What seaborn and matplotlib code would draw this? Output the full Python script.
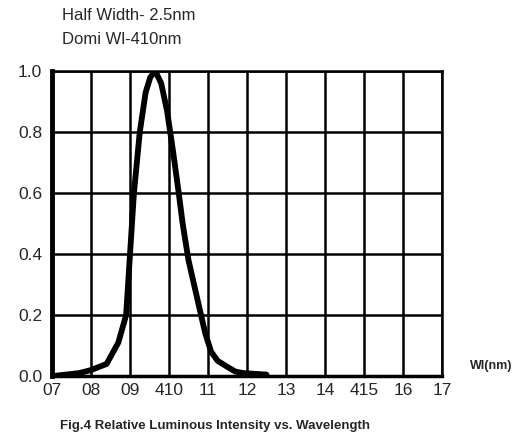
import matplotlib
matplotlib.use("Agg")
import matplotlib.pyplot as plt
import seaborn as sns
import pandas as pd

wavelength = [407.0, 407.7, 408.0, 408.4, 408.7, 408.9, 409.0, 409.1, 409.25, 409.4, 409.52, 409.65,
              409.8, 409.95, 410.1, 410.25, 410.35, 410.5, 410.75, 410.93, 411.08, 411.25, 411.5,
              411.7, 411.9, 412.5]
intensity = [0.0, 0.01, 0.02, 0.04, 0.11, 0.2, 0.4, 0.6, 0.8, 0.93, 0.98, 1.0,
             0.96, 0.87, 0.74, 0.6, 0.5, 0.38, 0.24, 0.14, 0.08, 0.05, 0.03,
             0.015, 0.01, 0.005]
x_ticks = [407, 408, 409, 410, 411, 412, 413, 414, 415, 416, 417]
x_tick_labels = ["07", "08", "09", "410", "11", "12", "13", "14", "415", "16", "17"]
y_ticks = [0.0, 0.2, 0.4, 0.6, 0.8, 1.0]
y_tick_labels = ["0.0", "0.2", "0.4", "0.6", "0.8", "1.0"]
title_lines = ["Half Width- 2.5nm", "Domi Wl-410nm"]
x_label = "Wl(nm)"
caption = "Fig.4 Relative Luminous Intensity vs. Wavelength"

sns.set_style("white")
plt.rcParams['font.family'] = ['Liberation Sans', 'DejaVu Sans']

df = pd.DataFrame({"wl": wavelength, "val": intensity})

fig = plt.figure(figsize=(5.27, 4.42), dpi=100)
ax = fig.add_axes([0.0987, 0.149, 0.74, 0.69])

sns.lineplot(data=df, x="wl", y="val", ax=ax, color="black", linewidth=4.2, sort=False)

ax.set_xlim(407, 417)
ax.set_ylim(0, 1.0)
ax.set_xticks(x_ticks)
ax.set_xticklabels(x_tick_labels, fontsize=12.5)
ax.set_yticks(y_ticks)
ax.set_yticklabels(y_tick_labels, fontsize=12.5)
ax.tick_params(axis='x', pad=5, length=0)
ax.tick_params(axis='y', pad=4, length=3, direction='out', color='black')
ax.grid(True, color="black", linewidth=1.8)
ax.set_axisbelow(True)
for side, sp in ax.spines.items():
    sp.set_color("black")
    sp.set_linewidth(1.8)
ax.spines['left'].set_linewidth(3.5)
ax.spines['bottom'].set_linewidth(2.5)
ax.set_xlabel("")
ax.set_ylabel("")

fig.text(62 / 527, 1 - 15 / 442, title_lines[0], fontsize=12, va="center", ha="left")
fig.text(62 / 527, 1 - 40 / 442, title_lines[1], fontsize=12, va="center", ha="left")
fig.text(470 / 527, 1 - 366 / 442, x_label, fontsize=9, va="center", ha="left", fontweight="bold")
fig.text(60 / 527, 1 - 426 / 442, caption, fontsize=9.5, va="center", ha="left", fontweight="bold")

fig.savefig("out.png", dpi=100)
